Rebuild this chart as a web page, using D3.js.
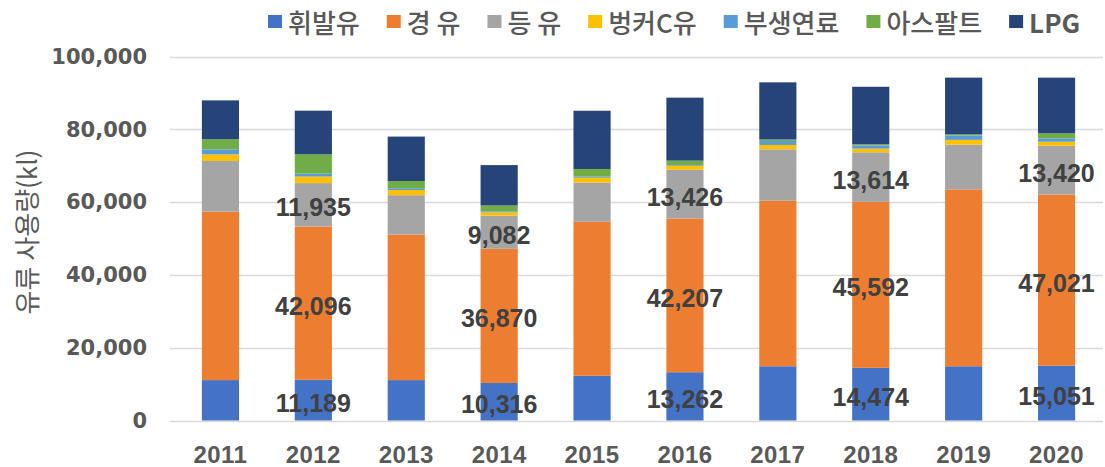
<!DOCTYPE html>
<html>
<head>
<meta charset="utf-8">
<script src="https://cdn.jsdelivr.net/npm/d3@7/dist/d3.min.js"></script>
<style>
  body { margin: 0; background: #fff; }
</style>
</head>
<body>
<div id="grafico"></div>
<script>
// datos (kl)
const anios = ["2011", "2012", "2013", "2014", "2015", "2016", "2017", "2018", "2019", "2020"]
const series = ["휘발유", "경 유", "등 유", "벙커C유", "부생연료", "아스팔트", "LPG"]
const colores = ["#4472C4", "#ED7D31", "#A5A5A5", "#FFC000", "#5B9BD5", "#70AD47", "#264478"]

const gasolina = [11100, 11189, 11100, 10316, 12300, 13262, 14900, 14474, 14900, 15051]
const diesel = [46300, 42096, 40000, 36870, 42300, 42207, 45500, 45592, 48600, 47021]
const queroseno = [13900, 11935, 10800, 9082, 10800, 13426, 14100, 13614, 12300, 13420]
const bunkerC = [1800, 1800, 1400, 900, 1300, 1100, 1200, 1000, 1300, 1100]
const subproducto = [1400, 800, 500, 300, 300, 200, 1100, 900, 1200, 900]
const asfalto = [2750, 5300, 2000, 1600, 2100, 1200, 400, 300, 300, 1400]
const lpg = [10700, 12000, 12200, 11100, 16000, 17300, 15700, 15800, 15600, 15300]

const yTicks = [0, 20000, 40000, 60000, 80000, 100000]
const aniosConEtiqueta = ["2012", "2014", "2016", "2018", "2020"]
const seriesConEtiqueta = ["휘발유", "경 유", "등 유"]

const valores = [gasolina, diesel, queroseno, bunkerC, subproducto, asfalto, lpg]
const tabla = anios.map((a, i) => {
  const fila = { anio: a }
  series.forEach((s, j) => { fila[s] = valores[j][i] })
  return fila
})

const ancho = 1105
const alto = 467
const margen = { left: 174, right: 2, top: 56.5, bottom: 46.5 }

const svg = d3.select("#grafico")
  .append("svg")
  .attr("width", ancho)
  .attr("height", alto)

const x = d3.scaleBand()
  .domain(anios)
  .range([margen.left, ancho - margen.right])
  .paddingInner(0.6)
  .paddingOuter(0.3)

const y = d3.scaleLinear()
  .domain([0, 100000])
  .range([alto - margen.bottom, margen.top])

const color = d3.scaleOrdinal().domain(series).range(colores)

// lineas de cuadricula
svg.append("g")
  .selectAll("line")
  .data(yTicks)
  .join("line")
  .attr("x1", 170)
  .attr("x2", ancho - margen.right)
  .attr("y1", d => Math.round(y(d)) + 0.5)
  .attr("y2", d => Math.round(y(d)) + 0.5)
  .attr("stroke", "#D9D9D9")
  .attr("stroke-width", 1.3)

// eje y
const ejeY = svg.append("g")
  .attr("transform", `translate(150, 0)`)
  .call(d3.axisLeft(y).tickValues(yTicks).tickFormat(d3.format(",")).tickSize(0).tickPadding(3))
ejeY.select(".domain").remove()
ejeY.selectAll("text")
  .attr("font-family", "DejaVu Sans")
  .attr("font-weight", "bold")
  .attr("font-size", 21)
  .attr("fill", "#595959")

// eje x
const ejeX = svg.append("g")
  .attr("transform", `translate(0, ${y(0)})`)
  .call(d3.axisBottom(x).tickSize(0).tickPadding(25))
ejeX.select(".domain").remove()
ejeX.selectAll("text")
  .attr("font-family", "Liberation Sans")
  .attr("font-weight", "bold")
  .attr("font-size", 24)
  .attr("letter-spacing", 0.4)
  .attr("fill", "#595959")

// barras apiladas
const apilado = d3.stack().keys(series)(tabla)

svg.append("g")
  .selectAll("g")
  .data(apilado)
  .join("g")
  .attr("fill", d => color(d.key))
  .selectAll("rect")
  .data(d => d)
  .join("rect")
  .attr("x", d => x(d.data.anio))
  .attr("y", d => y(d[1]))
  .attr("height", d => y(d[0]) - y(d[1]))
  .attr("width", x.bandwidth())

// etiquetas de valores
const etiquetas = []
apilado.filter(s => seriesConEtiqueta.includes(s.key)).forEach(s => {
  s.filter(d => aniosConEtiqueta.includes(d.data.anio)).forEach(d => {
    etiquetas.push({ anio: d.data.anio, centro: (d[0] + d[1]) / 2, valor: d.data[s.key] })
  })
})

svg.append("g")
  .selectAll("text")
  .data(etiquetas)
  .join("text")
  .attr("x", d => x(d.anio) + x.bandwidth() / 2)
  .attr("y", d => y(d.centro) + 11.5)
  .attr("text-anchor", "middle")
  .attr("font-family", "Liberation Sans")
  .attr("font-weight", "bold")
  .attr("font-size", 25)
  .attr("fill", "#404040")
  .text(d => d3.format(",")(d.valor))

// titulo eje y
svg.append("text")
  .attr("transform", `translate(25, 232) rotate(-90)`)
  .attr("text-anchor", "middle")
  .attr("dominant-baseline", "central")
  .attr("font-family", "Noto Sans CJK KR")
  .attr("font-size", 26)
  .attr("fill", "#595959")
  .text("유류 사용량(kl)")

// leyenda
const leyenda = svg.append("g")
let posX = 268
series.forEach(s => {
  leyenda.append("rect")
    .attr("x", posX)
    .attr("y", 15)
    .attr("width", 14)
    .attr("height", 13)
    .attr("fill", color(s))
  const t = leyenda.append("text")
    .attr("x", posX + 20)
    .attr("y", 21.5)
    .attr("dominant-baseline", "central")
    .attr("font-family", "Noto Sans CJK KR")
    .attr("font-weight", s === "LPG" ? "bold" : 500)
    .attr("font-size", 26)
    .attr("fill", "#595959")
    .text(s)
  posX += 20 + t.node().getComputedTextLength() + 27
})
</script>
</body>
</html>
